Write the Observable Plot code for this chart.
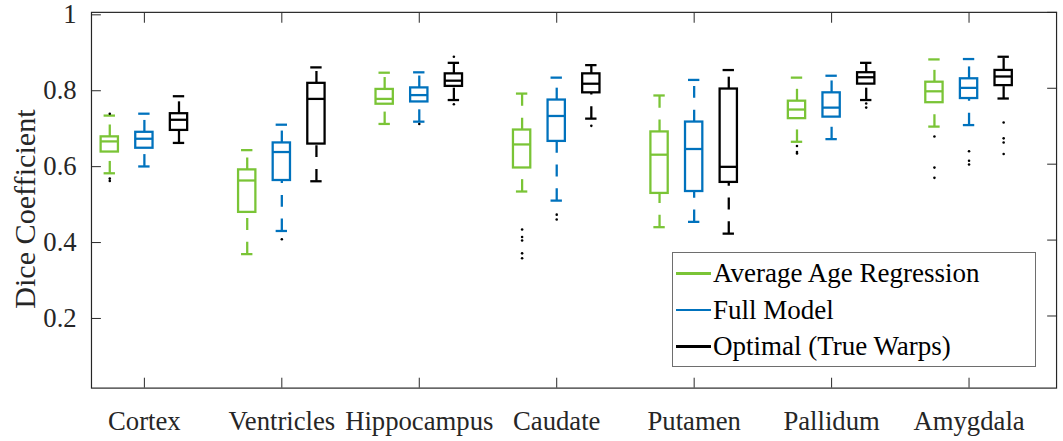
<!DOCTYPE html>
<html><head><meta charset="utf-8">
<script src="https://cdn.jsdelivr.net/npm/d3@7"></script>
<script src="https://cdn.jsdelivr.net/npm/@observablehq/plot@0.6"></script>
<style>
html,body{margin:0;padding:0;background:#fff;overflow:hidden;}
#wrap{position:relative;width:1063px;height:441px;overflow:hidden;}
#legend{position:absolute;left:672px;top:252px;width:364px;height:115px;border:1px solid #6e6e6e;background:#fff;box-sizing:border-box;font-family:"Liberation Serif","Times New Roman",serif;font-size:27px;color:#000;}
#legend .row{position:absolute;left:3px;height:30px;display:flex;align-items:center;white-space:nowrap;}
#legend .sw{width:35px;height:2.5px;margin-right:2px;}
</style></head><body><div id="wrap"><div id="chart"></div><div id="legend"></div></div>
<script>
// ---------- data ----------
const categories = ["Cortex", "Ventricles", "Hippocampus", "Caudate", "Putamen", "Pallidum", "Amygdala"];
const seriesNames = ["Average Age Regression", "Full Model", "Optimal (True Warps)"];
const yTicks = [0.2, 0.4, 0.6, 0.8, 1];
const yLabel = "Dice Coefficient";

// per category: [lower whisker, Q1, median, Q3, upper whisker]
const ageRegression = [
  [0.576, 0.632, 0.660, 0.672, 0.728],
  [0.363, 0.473, 0.557, 0.585, 0.637],
  [0.706, 0.758, 0.772, 0.797, 0.841],
  [0.528, 0.590, 0.652, 0.690, 0.786],
  [0.434, 0.523, 0.625, 0.685, 0.781],
  [0.659, 0.720, 0.744, 0.766, 0.828],
  [0.699, 0.762, 0.792, 0.816, 0.876]
];
const fullModel = [
  [0.594, 0.642, 0.667, 0.684, 0.733],
  [0.424, 0.557, 0.632, 0.656, 0.704],
  [0.712, 0.764, 0.782, 0.801, 0.842],
  [0.504, 0.660, 0.727, 0.769, 0.828],
  [0.448, 0.528, 0.640, 0.711, 0.822],
  [0.666, 0.724, 0.749, 0.788, 0.833],
  [0.703, 0.773, 0.801, 0.825, 0.877]
];
const optimal = [
  [0.656, 0.689, 0.717, 0.733, 0.779],
  [0.555, 0.653, 0.772, 0.813, 0.855],
  [0.769, 0.805, 0.820, 0.838, 0.867],
  [0.720, 0.788, 0.812, 0.838, 0.861],
  [0.417, 0.552, 0.593, 0.798, 0.848],
  [0.769, 0.811, 0.829, 0.841, 0.867],
  [0.773, 0.807, 0.831, 0.847, 0.883]
];
// outliers per category
const ageOutliers = [[0.733, 0.562, 0.556], [], [], [0.428, 0.408, 0.399, 0.365, 0.352], [], [0.648, 0.632, 0.628], [0.673, 0.591, 0.564]];
const fullOutliers = [[], [0.402], [0.706], [0.467, 0.454], [], [], [0.634, 0.609, 0.599]];
const optimalOutliers = [[], [], [0.883, 0.758], [0.701], [], [0.760, 0.749], [0.710, 0.668, 0.657, 0.627]];

// ---------- styles / layout ----------
const colors = ["#7AC436", "#0072BD", "#000000"];
const seriesDx = [-35, 0, 35];
const axisColor = "#262626";
const font = "'Liberation Serif', 'Times New Roman', serif";
const W = 1075, H = 441, mL = 92, mR = 7, mT = 12, mB = 49;
const step = 139.5, firstCenter = 52.3;
const xRange = [mL + firstCenter - step / 2, mL + firstCenter - step / 2 + step * categories.length];
const boxW = 18, capW = 12, lw = 2.3;
const boxInset = (step - boxW) / 2, capInset = (step - capW) / 2;

const stats = [ageRegression, fullModel, optimal];
const outs = [ageOutliers, fullOutliers, optimalOutliers];

const marks = [
  Plot.frame({stroke: axisColor, strokeWidth: 1.2}),
  Plot.axisY({ticks: yTicks, tickSize: -10, tickPadding: 25, tickFormat: d => String(d), label: null, dy: 2.5, stroke: axisColor, fill: axisColor}),
  Plot.axisY({anchor: "right", ticks: yTicks, tickSize: -10, tickFormat: () => "", label: null, stroke: axisColor}),
  Plot.axisX({tickSize: -10, tickPadding: 33, label: null, stroke: axisColor, fill: axisColor}),
  Plot.axisX({anchor: "top", tickSize: -10, tickFormat: () => "", label: null, stroke: axisColor}),
  Plot.text([yLabel], {text: d => d, frameAnchor: "left", textAnchor: "middle", rotate: -90, dx: -67, dy: 9, fontSize: 30.5, fill: axisColor})
];

stats.forEach((arr, s) => {
  const rows = arr.map((d, i) => ({category: categories[i], lo: d[0], q1: d[1], med: d[2], q3: d[3], hi: d[4]}));
  const pts = outs[s].flatMap((vals, i) => vals.map(v => ({category: categories[i], value: v})));
  const c = colors[s], dx = seriesDx[s];
  marks.push(
    Plot.ruleX(rows, {x: "category", y1: "q3", y2: "hi", dx, stroke: c, strokeWidth: lw, strokeDasharray: "12,12"}),
    Plot.ruleX(rows, {x: "category", y1: "lo", y2: "q1", dx, stroke: c, strokeWidth: lw, strokeDasharray: "12,12"}),
    Plot.barY(rows, {x: "category", y1: "q1", y2: "q3", dx, fill: "none", stroke: c, strokeWidth: lw, insetLeft: boxInset, insetRight: boxInset}),
    Plot.tickY(rows, {x: "category", y: "med", dx, stroke: c, strokeWidth: lw, insetLeft: boxInset, insetRight: boxInset}),
    Plot.tickY(rows, {x: "category", y: "hi", dx, stroke: c, strokeWidth: lw, insetLeft: capInset, insetRight: capInset}),
    Plot.tickY(rows, {x: "category", y: "lo", dx, stroke: c, strokeWidth: lw, insetLeft: capInset, insetRight: capInset}),
    Plot.dot(pts, {x: "category", y: "value", dx, r: 1.3, fill: "#000", stroke: "none"})
  );
});

const chart = Plot.plot({
  width: W, height: H,
  marginLeft: mL, marginRight: mR, marginTop: mT, marginBottom: mB,
  style: {fontFamily: font, fontSize: "27px", color: axisColor, background: "white", overflow: "visible"},
  x: {type: "band", domain: categories, range: xRange, padding: 0},
  y: {domain: [0.01, 1]},
  marks
});
document.getElementById("chart").appendChild(chart);

// legend
const legend = document.getElementById("legend");
const rowTops = [5.5, 42, 78.5];
seriesNames.forEach((name, s) => {
  const row = document.createElement("div");
  row.className = "row";
  row.style.top = rowTops[s] + "px";
  const sw = document.createElement("span");
  sw.className = "sw";
  sw.style.background = colors[s];
  const tx = document.createElement("span");
  tx.textContent = name;
  row.appendChild(sw); row.appendChild(tx);
  legend.appendChild(row);
});
</script>
</body></html>
